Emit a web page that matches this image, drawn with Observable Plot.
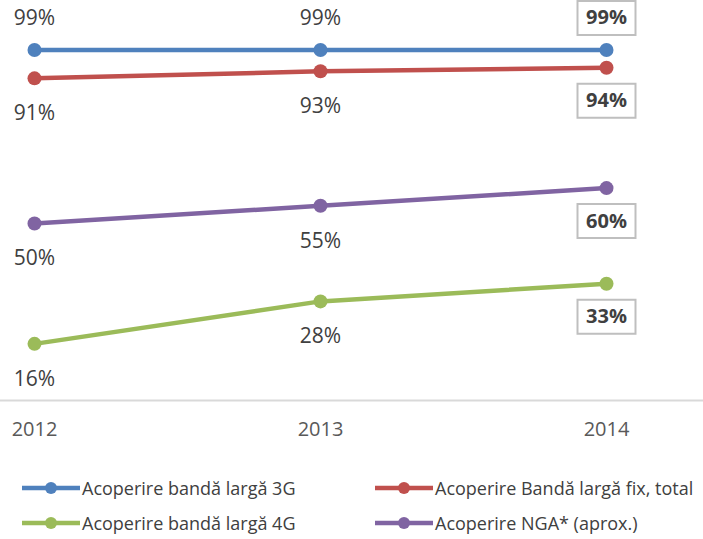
<!DOCTYPE html>
<html>
<head>
<meta charset="utf-8">
<script src="https://cdn.jsdelivr.net/npm/d3@7"></script>
<script src="https://cdn.jsdelivr.net/npm/@observablehq/plot@0.6"></script>
<style>
  body { margin: 0; background: #fff; font-family: "Open Sans", sans-serif; }
  #chart { width: 703px; height: 539px; position: relative; overflow: hidden; }
  .legend { position: absolute; left: 0; top: 470px; width: 703px; }
  .item { position: absolute; display: flex; align-items: center; font-size: 18px; color: #404040; white-space: nowrap; }
  .item svg { margin-right: 2px; }
</style>
</head>
<body>
<div id="chart"></div>
<script>
const years = ["2012", "2013", "2014"];
const seriesNames = [
  "Acoperire bandă largă 3G",
  "Acoperire Bandă largă fix, total",
  "Acoperire bandă largă 4G",
  "Acoperire NGA* (aprox.)"
];
const colors = ["#4F81BD", "#C0504D", "#9BBB59", "#8064A2"];
const values3G = [99, 99, 99];
const valuesFix = [91, 93, 94];
const values4G = [16, 28, 33];
const valuesNGA = [50, 55, 60];
const labelAbove = [true, false, false, false];

const allValues = [values3G, valuesFix, values4G, valuesNGA];
const data = [];
seriesNames.forEach((s, i) => {
  years.forEach((y, j) => {
    data.push({series: s, year: y, value: allValues[i][j], above: labelAbove[i], boxed: j === years.length - 1});
  });
});

const boxSymbol = {
  draw(ctx, size) { ctx.moveTo(-29, -17); ctx.lineTo(29, -17); ctx.lineTo(29, 17); ctx.lineTo(-29, 17); ctx.closePath(); }
};

const plain = data.filter(d => !d.boxed);
const boxed = data.filter(d => d.boxed);
const fmt = d => d.value + "%";

const plot = Plot.plot({
  width: 703,
  height: 465,
  marginLeft: 0,
  marginRight: 0,
  marginTop: 0,
  marginBottom: 65,
  style: {fontFamily: "Open Sans, sans-serif", background: "transparent"},
  x: {type: "point", domain: years, range: [33, 606], padding: 0, label: null},
  y: {domain: [0, 100], range: [400, 46], axis: null},
  color: {domain: seriesNames, range: colors},
  marks: [
    Plot.ruleY([0], {stroke: "#d9d9d9", strokeWidth: 2}),
    Plot.axisX({tickSize: 0, tickPadding: 21, fontSize: 20, fill: "#595959", label: null}),
    Plot.line(data, {x: "year", y: "value", z: "series", stroke: "series", strokeWidth: 4.5}),
    Plot.dot(data, {x: "year", y: "value", fill: "series", r: 7}),
    Plot.text(plain.filter(d => d.above), {x: "year", y: "value", text: fmt, dy: -32, fontSize: 21, fill: "#404040"}),
    Plot.text(plain.filter(d => !d.above), {x: "year", y: "value", text: fmt, dy: 35, fontSize: 21, fill: "#404040"}),
    Plot.dot(boxed.filter(d => d.above), {x: "year", y: "value", symbol: boxSymbol, r: 10, dy: -32, stroke: "#bfbfbf", strokeWidth: 2, fill: "white"}),
    Plot.dot(boxed.filter(d => !d.above), {x: "year", y: "value", symbol: boxSymbol, r: 10, dy: 33, stroke: "#bfbfbf", strokeWidth: 2, fill: "white"}),
    Plot.text(boxed.filter(d => d.above), {x: "year", y: "value", text: fmt, dy: -32, fontSize: 20, fontWeight: "bold", fill: "#404040"}),
    Plot.text(boxed.filter(d => !d.above), {x: "year", y: "value", text: fmt, dy: 33, fontSize: 20, fontWeight: "bold", fill: "#404040"})
  ]
});

const chart = document.getElementById("chart");
chart.appendChild(plot);

const legend = document.createElement("div");
legend.className = "legend";
const pos = [[22, 0], [375, 0], [22, 35], [375, 35]];
const order = [0, 1, 2, 3];
order.forEach((i, k) => {
  const it = document.createElement("div");
  it.className = "item";
  it.style.left = pos[k][0] + "px";
  it.style.top = (pos[k][1] + 6) + "px";
  it.innerHTML = `<svg width="58" height="16"><line x1="0" y1="8" x2="58" y2="8" stroke="${colors[i]}" stroke-width="4.5"/><circle cx="29" cy="8" r="6" fill="${colors[i]}"/></svg><span>${seriesNames[i]}</span>`;
  legend.appendChild(it);
});
chart.appendChild(legend);
</script>
</body>
</html>
